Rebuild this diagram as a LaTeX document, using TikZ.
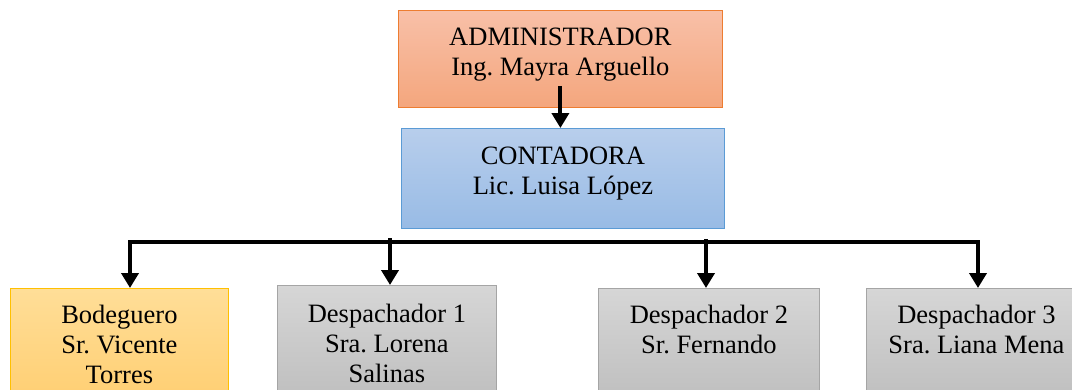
\documentclass[tikz,border=0pt]{standalone}
\usepackage{fontspec}
\setmainfont{Liberation Serif}
\usetikzlibrary{arrows.meta}
\frenchspacing

\definecolor{admintop}{RGB}{248,192,168}
\definecolor{adminbot}{RGB}{244,166,125}
\definecolor{adminline}{RGB}{237,125,49}
\definecolor{contatop}{RGB}{184,206,236}
\definecolor{contabot}{RGB}{152,187,229}
\definecolor{contaline}{RGB}{91,155,213}
\definecolor{bodtop}{RGB}{255,222,152}
\definecolor{bodbot}{RGB}{255,205,110}
\definecolor{bodline}{RGB}{255,192,0}
\definecolor{desptop}{RGB}{214,214,214}
\definecolor{despbot}{RGB}{188,188,188}
\definecolor{despline}{RGB}{165,165,165}

\begin{document}
\begin{tikzpicture}[x=1pt,y=-1pt,font=\fontsize{26.5}{30}\selectfont\frenchspacing]
\tikzset{
  post/.style={draw,line width=0.8pt,align=center,anchor=north west,inner sep=0pt},
  admin post/.style={post,draw=adminline,top color=admintop,bottom color=adminbot},
  conta post/.style={post,draw=contaline,top color=contatop,bottom color=contabot},
  bod post/.style={post,draw=bodline,top color=bodtop,bottom color=bodbot},
  desp post/.style={post,draw=despline,top color=desptop,bottom color=despbot},
  link/.style={line width=4pt,-{Triangle[width=17pt,length=15pt]}},
  bar/.style={line width=4pt,line cap=rect}
}

\path[use as bounding box,clip] (0,0) rectangle (1072,389);

% top of the chart
\node[admin post,minimum width=324pt,text height=65pt,text depth=32pt]
  (admin) at (398,10) {ADMINISTRADOR\\Ing. Mayra Arguello};
\node[conta post,minimum width=323pt,text height=66pt,text depth=34pt]
  (conta) at (401,128) {CONTADORA\\Lic. Luisa López};

% staff
\node[bod post,minimum width=218pt,text height=95pt,text depth=30pt]
  (bod) at (10,288) {Bodeguero\\Sr. Vicente\\Torres};
\node[desp post,minimum width=219pt,text height=97pt,text depth=30pt]
  (desp1) at (277,285) {Despachador 1\\Sra. Lorena\\Salinas};
\node[desp post,minimum width=221pt,text height=65pt,text depth=60pt]
  (desp2) at (598,288) {Despachador 2\\Sr. Fernando};
\node[desp post,minimum width=220pt,text height=65pt,text depth=60pt]
  (desp3) at (866,288) {Despachador 3\\Sra. Liana Mena};

% connectors
\draw[link] ([yshift=22pt]admin.south) -- (conta.north -| admin.south);

\coordinate (busA) at (130,242);
\coordinate (busB) at (390,238);
\coordinate (busC) at (706,239);
\coordinate (busD) at (978,242);

\draw[bar] (busA) -- (busD);
\draw[link] (busA) -- (bod.north -| busA);
\draw[link] (busB) -- (desp1.north -| busB);
\draw[link] (busC) -- (desp2.north -| busC);
\draw[link] (busD) -- (desp3.north -| busD);

\end{tikzpicture}
\end{document}
